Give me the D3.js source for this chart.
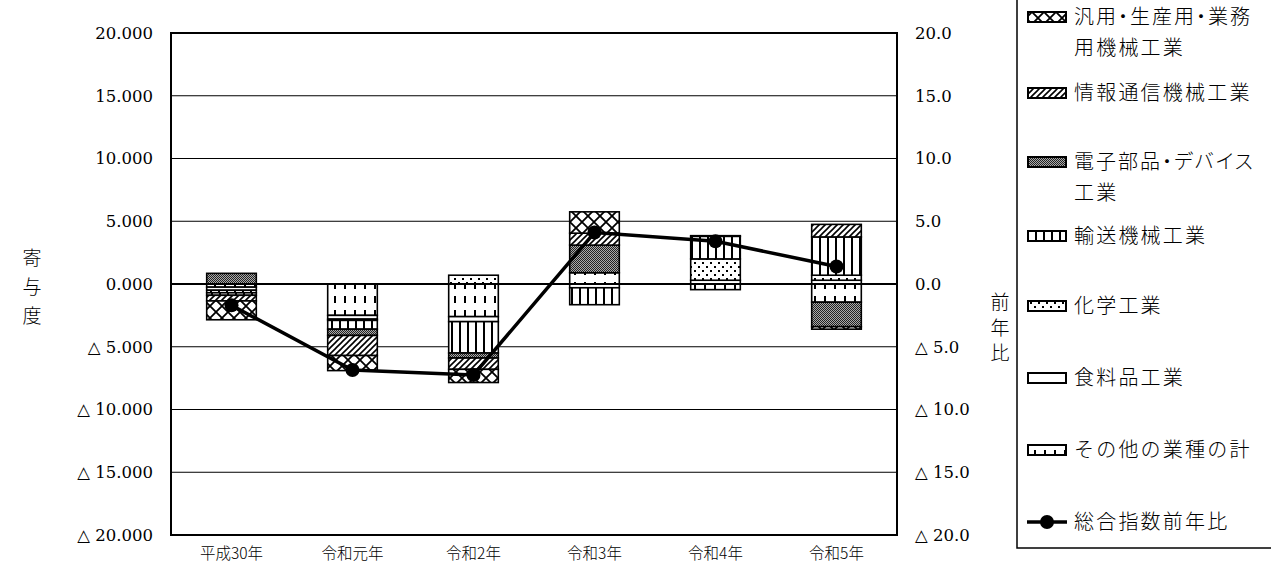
<!DOCTYPE html>
<html><head><meta charset="utf-8">
<script src="https://cdn.jsdelivr.net/npm/d3@7/dist/d3.min.js"></script>
<style>
html,body{margin:0;padding:0;background:#fff;}
svg{display:block;font-family:"DejaVu Serif","Noto Sans CJK JP",serif;}
.palt{font-feature-settings:"palt" 1;}
</style></head><body>
<svg id="c" width="1271" height="565"></svg>
<script>
const categories = ["平成30年","令和元年","令和2年","令和3年","令和4年","令和5年"];
// stacking order (first = nearest the zero line)
const seriesNames = ["その他の業種の計","食料品工業","化学工業","輸送機械工業","電子部品・デバイス工業","情報通信機械工業","汎用・生産用・業務用機械工業"];
const sonota   = [-0.25,-2.5,-2.6, 0.9,-0.45,-1.45];
const shokuryo = [-0.25,-0.3,-0.4,-0.3, 0.3, 0.3];
const kagaku   = [-0.2,-0.1, 0.7, 0.0, 1.7, 0.4];
const yuso     = [-0.2,-0.7,-2.5,-1.35, 1.8, 3.05];
const denshi   = [ 0.85,-0.5,-0.4, 2.2, 0.0,-1.95];
const joho     = [-0.45,-1.6,-0.9, 0.95, 0.0, 1.0];
const hanyo    = [-1.5,-1.2,-1.05, 1.7, 0.05,-0.2];
const totalYoY = [-1.7,-6.85,-7.25,4.1,3.4,1.4];
const leftTicks = [20,15,10,5,0,-5,-10,-15,-20];
const leftTickLabels = ["20.000","15.000","10.000","5.000","0.000","△ 5.000","△ 10.000","△ 15.000","△ 20.000"];
const rightTickLabels = ["20.0","15.0","10.0","5.0","0.0","△ 5.0","△ 10.0","△ 15.0","△ 20.0"];
const seriesValues = [sonota, shokuryo, kagaku, yuso, denshi, joho, hanyo];
const patternIds = ["pSonota","pShoku","pKagaku","pYuso","pDenshi","pJoho","pHanyo"];

const svg = d3.select("#c");
const L=171, R=897, T=33, B=535;
const x = d3.scaleBand().domain(categories).range([L,R]).paddingInner(0.59).paddingOuter(0.295);
const y = d3.scaleLinear().domain([-20,20]).range([B,T]);
const yR = d3.scaleLinear().domain([-20,20]).range([B,T]);
const numFont = "'DejaVu Serif','Noto Sans CJK JP',serif";
const jpFont = "'Noto Sans CJK JP',sans-serif";

// patterns
const defs = svg.append("defs");
function pat(id,w,h){return defs.append("pattern").attr("id",id).attr("patternUnits","userSpaceOnUse").attr("width",w).attr("height",h);}
let p;
p = pat("pSonota",10,14); p.append("rect").attr("width",10).attr("height",14).attr("fill","#fff");
p.append("rect").attr("x",4).attr("y",2).attr("width",2).attr("height",7).attr("fill","#000");
p = pat("pShoku",4,4); p.append("rect").attr("width",4).attr("height",4).attr("fill","#fff");
p = pat("pKagaku",8,8); p.append("rect").attr("width",8).attr("height",8).attr("fill","#fff");
p.append("rect").attr("x",2).attr("y",2).attr("width",2).attr("height",2).attr("fill","#000");
p.append("rect").attr("x",6).attr("y",6).attr("width",2).attr("height",2).attr("fill","#000");
p = pat("pYuso",8,8); p.append("rect").attr("width",8).attr("height",8).attr("fill","#fff");
p.append("rect").attr("x",3).attr("y",0).attr("width",2).attr("height",8).attr("fill","#000");
p = pat("pDenshi",2,2); p.append("rect").attr("width",2).attr("height",2).attr("fill","#aaa");
p.append("rect").attr("width",1).attr("height",1).attr("fill","#222");
p.append("rect").attr("x",1).attr("y",1).attr("width",1).attr("height",1).attr("fill","#222");
p = pat("pJoho",6,6); p.append("rect").attr("width",6).attr("height",6).attr("fill","#fff");
p.append("path").attr("d","M-1,7 L7,-1 M-1,1 L1,-1 M5,7 L7,5").attr("stroke","#000").attr("stroke-width",1.6);
p = pat("pHanyo",12,12); p.append("rect").attr("width",12).attr("height",12).attr("fill","#fff");
p.append("path").attr("d","M0,0 L12,12 M12,0 L0,12").attr("stroke","#000").attr("stroke-width",1.8);

// gridlines
svg.append("g").selectAll("line").data(leftTicks).join("line")
  .attr("x1",L).attr("x2",R).attr("y1",d=>y(d)).attr("y2",d=>y(d))
  .attr("stroke","#000").attr("stroke-width",1);

// axes labels
const lab = d3.axisLeft(y).tickValues(leftTicks).tickSize(0).tickPadding(18).tickFormat((d,i)=>leftTickLabels[i]);
const gL = svg.append("g").attr("transform",`translate(${L},0)`).call(lab);
gL.attr("font-family",numFont).attr("font-size",16.5);
gL.select(".domain").remove();
gL.selectAll("text").attr("fill","#000");
const rab = d3.axisRight(yR).tickValues(leftTicks).tickSize(0).tickPadding(18).tickFormat((d,i)=>rightTickLabels[i]);
const gR = svg.append("g").attr("transform",`translate(${R},0)`).call(rab);
gR.attr("font-family",numFont).attr("font-size",16.5);
gR.select(".domain").remove();
gR.selectAll("text").attr("fill","#000");

// stacked bars
categories.forEach((c,i)=>{
  let pos=0, neg=0;
  seriesValues.forEach((vals,s)=>{
    const v = vals[i];
    if (v===0) return;
    let y0,y1;
    if (v>0){ y0=pos; y1=pos+v; pos=y1; } else { y0=neg; y1=neg+v; neg=y1; }
    svg.append("rect").attr("x",x(c)).attr("width",x.bandwidth())
      .attr("y",y(Math.max(y0,y1))).attr("height",Math.abs(y(y0)-y(y1)))
      .attr("fill",`url(#${patternIds[s]})`).attr("stroke","#000").attr("stroke-width",1.6);
  });
});

// zero line
svg.append("line").attr("x1",L).attr("x2",R).attr("y1",y(0)).attr("y2",y(0)).attr("stroke","#000").attr("stroke-width",2);
// plot border
svg.append("rect").attr("x",L).attr("y",T).attr("width",R-L).attr("height",B-T).attr("fill","none").attr("stroke","#000").attr("stroke-width",2);

// line
const cx = c=>x(c)+x.bandwidth()/2;
svg.append("path").datum(totalYoY).attr("fill","none").attr("stroke","#000").attr("stroke-width",3.5)
  .attr("d",d3.line().x((d,i)=>cx(categories[i])).y(d=>yR(d)));
svg.append("g").selectAll("circle").data(totalYoY).join("circle")
  .attr("cx",(d,i)=>cx(categories[i])).attr("cy",d=>yR(d)).attr("r",7).attr("fill","#000");

// category labels
svg.append("g").selectAll("text").data(categories).join("text")
  .attr("x",d=>cx(d)).attr("y",559).attr("text-anchor","middle").attr("font-size",15.5)
  .attr("font-family",jpFont).attr("font-weight",300).text(d=>d);

// axis titles (vertical)
["寄","与","度"].forEach((ch,i)=>svg.append("text").attr("x",32).attr("y",265+i*29).attr("text-anchor","middle").attr("font-size",19).attr("font-family",jpFont).attr("font-weight",300).text(ch));
["前","年","比"].forEach((ch,i)=>svg.append("text").attr("x",1000).attr("y",309+i*25.5).attr("text-anchor","middle").attr("font-size",19).attr("font-family",jpFont).attr("font-weight",300).text(ch));

// legend
svg.append("rect").attr("x",1017).attr("y",-5).attr("width",260).attr("height",553).attr("fill","none").attr("stroke","#000").attr("stroke-width",1.5);
const legendItems = [
  {s:6, lines:["汎用・生産用・業務","用機械工業"], y:17},
  {s:5, lines:["情報通信機械工業"], y:93},
  {s:4, lines:["電子部品・デバイス","工業"], y:162},
  {s:3, lines:["輸送機械工業"], y:236},
  {s:2, lines:["化学工業"], y:306},
  {s:1, lines:["食料品工業"], y:378},
  {s:0, lines:["その他の業種の計"], y:450}
];
function legendText(str, xx, yy){
  svg.append("text").attr("x",xx).attr("y",yy).attr("font-size",20)
    .attr("font-family",jpFont).attr("font-weight",300)
    .attr("letter-spacing", str.includes("・") ? 2.0 : 2.2)
    .attr("class", str.includes("・") ? "palt" : null)
    .text(str);
}
legendItems.forEach(it=>{
  svg.append("rect").attr("x",1028).attr("y",it.y-5).attr("width",38).attr("height",10)
    .attr("fill",`url(#${patternIds[it.s]})`).attr("stroke","#000").attr("stroke-width",2);
  it.lines.forEach((t,k)=>legendText(t,1074,it.y+7+k*31));
});
svg.append("line").attr("x1",1027).attr("x2",1067).attr("y1",522).attr("y2",522).attr("stroke","#000").attr("stroke-width",3.5);
svg.append("circle").attr("cx",1047).attr("cy",522).attr("r",7).attr("fill","#000");
legendText("総合指数前年比",1074,529);
</script>
</body></html>
